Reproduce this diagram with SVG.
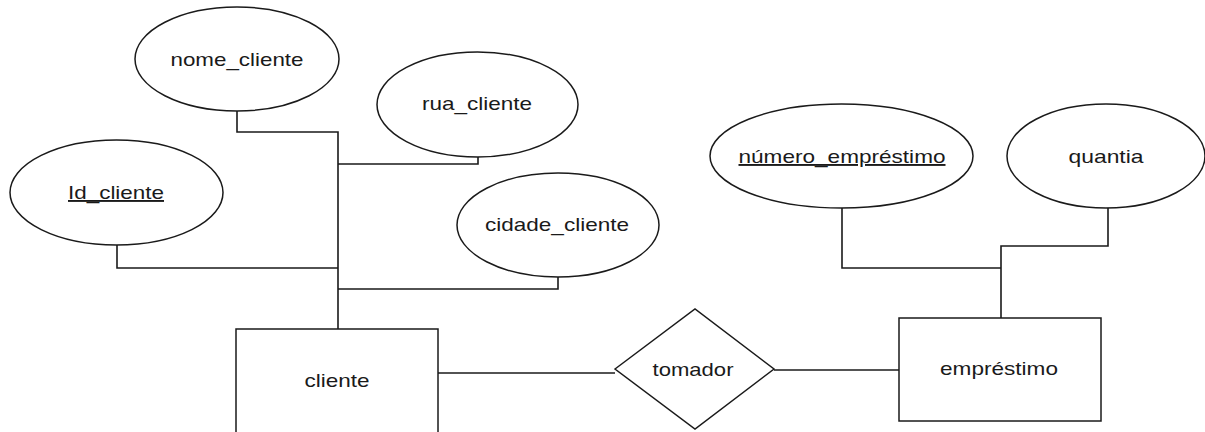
<svg xmlns="http://www.w3.org/2000/svg" width="1205" height="432" viewBox="0 0 1205 432">
<style>
.shape{fill:#fff;stroke:#1a1a1a;stroke-width:1.5}
.conn{fill:none;stroke:#1a1a1a;stroke-width:1.6}
text{font-family:"Liberation Sans",Arial,sans-serif;font-size:19px;fill:#1a1a1a;text-anchor:middle}
.key{text-decoration:underline}
</style>
<rect width="1205" height="432" fill="#fff"/>
<g id="connectors">
<polyline class="conn" points="237,111 237,132 338,132 338,330"/>
<polyline class="conn" points="478,157 478,164 338,164"/>
<polyline class="conn" points="558,277 558,289 338,289"/>
<polyline class="conn" points="117,245 117,268 338,268"/>
<polyline class="conn" points="437,373 615,373"/>
<polyline class="conn" points="774,370 899,370"/>
<polyline class="conn" points="842,208 842,268 1001,268"/>
<polyline class="conn" points="1108,208 1108,246 1001,246 1001,318"/>
</g>
<g id="nome_cliente"><ellipse class="shape" cx="237" cy="59" rx="102" ry="52"/><text x="237" y="66" textLength="133" lengthAdjust="spacingAndGlyphs">nome_cliente</text></g>
<g id="rua_cliente"><ellipse class="shape" cx="477.5" cy="104.5" rx="100.5" ry="52.5"/><text x="477" y="110" textLength="110" lengthAdjust="spacingAndGlyphs">rua_cliente</text></g>
<g id="cidade_cliente"><ellipse class="shape" cx="558" cy="225" rx="101" ry="52"/><text x="557" y="231" textLength="144" lengthAdjust="spacingAndGlyphs">cidade_cliente</text></g>
<g id="id_cliente"><ellipse class="shape" cx="116.5" cy="192.5" rx="106.5" ry="52.5"/><text class="key" x="116" y="199" textLength="96" lengthAdjust="spacingAndGlyphs">Id_cliente</text></g>
<g id="cliente"><rect class="shape" x="236" y="329" width="202" height="112"/><text x="337" y="387" textLength="65" lengthAdjust="spacingAndGlyphs">cliente</text></g>
<g id="tomador"><polygon class="shape" points="615,369 695,309 774,369 695,429"/><text x="693" y="376" textLength="81" lengthAdjust="spacingAndGlyphs">tomador</text></g>
<g id="emprestimo"><rect class="shape" x="899" y="318" width="202" height="103"/><text x="999" y="375" textLength="118" lengthAdjust="spacingAndGlyphs">empréstimo</text></g>
<g id="numero_emprestimo"><ellipse class="shape" cx="841.5" cy="156" rx="131.5" ry="52"/><text class="key" x="842" y="163" textLength="207" lengthAdjust="spacingAndGlyphs">número_empréstimo</text></g>
<g id="quantia"><ellipse class="shape" cx="1106" cy="156" rx="99" ry="52"/><text x="1106" y="163" textLength="75" lengthAdjust="spacingAndGlyphs">quantia</text></g>
</svg>
